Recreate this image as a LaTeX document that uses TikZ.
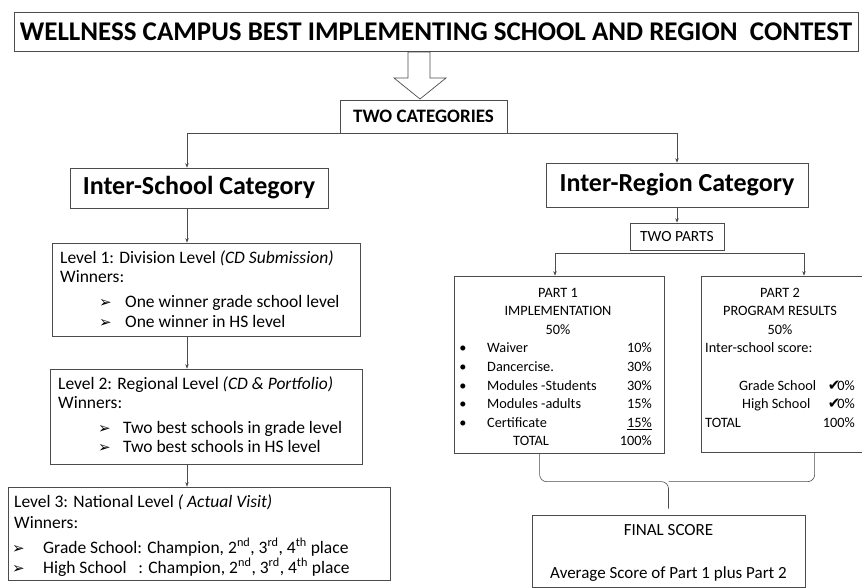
\documentclass[tikz,border=0pt]{standalone}
\usepackage{fontspec}
\setmainfont{Carlito}
\newfontfamily\symfont{DejaVu Sans}
\usetikzlibrary{arrows.meta,calc}

\newcommand{\arrbul}{{\symfont\fontsize{15}{15}\selectfont ➢}}
\newcommand{\chk}{{\symfont\fontsize{15}{15}\selectfont ✔}}

\tikzset{
  box/.style={draw=black!70, line width=0.7pt, inner sep=0pt},
  conn/.style={draw=black!70, line width=0.6pt},
  arr/.style={conn, -{Stealth[length=4.5pt,width=3.5pt]}},
  lvl/.style={anchor=base west, inner sep=0pt, font=\fontsize{17.5}{20}\selectfont},
  prt/.style={anchor=base, inner sep=0pt, font=\fontsize{14.3}{17}\selectfont},
}

\begin{document}
\begin{tikzpicture}[x=1pt,y=-1pt]
  \useasboundingbox (0,0) rectangle (862,588);
  % title and the two categories
  \node[box, minimum width=844, minimum height=39, font=\fontsize{27}{30}\selectfont\bfseries] (title) at (436,31.5) {WELLNESS CAMPUS BEST IMPLEMENTING SCHOOL AND REGION\ \ CONTEST};
  \draw[conn, line width=0.7pt] (408,52) -- (430,52) -- (430,78) -- (446,78) -- (420,99) -- (394,78) -- (408,78) -- cycle;
  \node[box, minimum width=167, minimum height=33, font=\fontsize{19}{22}\selectfont\bfseries] (cats) at (423.5,116.5) {TWO CATEGORIES};
  \node[box, minimum width=258, minimum height=40, font=\fontsize{26}{30}\selectfont\bfseries] (school) at (199,188) {Inter-School Category};
  \node[box, minimum width=262, minimum height=44, font=\fontsize{26}{30}\selectfont\bfseries] (region) at (677,185) {Inter-Region Category};
  \draw[arr] (cats.south) -| ([xshift=-12pt]school.north);
  \draw[arr] (cats.south) -| (region.north);

  % inter-school levels
  \node[box, minimum width=308, minimum height=93] (lvl1) at (206,289.5) {};
  \node[box, minimum width=312, minimum height=95] (lvl2) at (206,416.5) {};
  \node[box, minimum width=382, minimum height=93] (lvl3) at (199,533.5) {};
  \coordinate (spine) at (187,0);
  \draw[arr] (school.south -| spine) -- (lvl1.north -| spine);
  \draw[arr] (lvl1.south -| spine) -- (lvl2.north -| spine);
  \draw[arr] (lvl2.south -| spine) -- (lvl3.north -| spine);

  \node[lvl] (l1a) at (60,263) {Level 1: Division Level \textit{(CD Submission)}};
  \node[lvl] (l1b) at (60,282) {Winners:};
  \node[lvl] (l1c) at (99,307) {\arrbul};
  \node[lvl] (l1d) at (125,307) {One winner grade school level};
  \node[lvl] (l1e) at (99,327) {\arrbul};
  \node[lvl] (l1f) at (125,327) {One winner in HS level};

  \node[lvl] (l2a) at (58,389) {Level 2: Regional Level \textit{(CD \& Portfolio)}};
  \node[lvl] (l2b) at (58,408) {Winners:};
  \node[lvl] (l2c) at (98,433) {\arrbul};
  \node[lvl] (l2d) at (123,433) {Two best schools in grade level};
  \node[lvl] (l2e) at (98,452) {\arrbul};
  \node[lvl] (l2f) at (123,452) {Two best schools in HS level};

  \node[lvl] (l3a) at (14,507) {Level 3: National Level \textit{( Actual Visit)}};
  \node[lvl] (l3b) at (14,528) {Winners:};
  \node[lvl] (l3c) at (12,553) {\arrbul};
  \node[lvl] (l3d) at (43,553) {Grade School: Champion, 2\textsuperscript{nd}, 3\textsuperscript{rd}, 4\textsuperscript{th} place};
  \node[lvl] (l3e) at (12,573) {\arrbul};
  \node[lvl] (l3f) at (43,573) {High School\ \ \ : Champion, 2\textsuperscript{nd}, 3\textsuperscript{rd}, 4\textsuperscript{th} place};

  % inter-region parts
  \node[box, minimum width=94, minimum height=27, font=\fontsize{15.5}{18}\selectfont] (parts) at (677,236.5) {TWO PARTS};
  \node[box, minimum width=210, minimum height=177] (part1) at (559,364.5) {};
  \node[box, minimum width=165, minimum height=176] (part2) at (783.5,364) {};
  \draw[arr] (region.south) -- (parts.north);
  \draw[arr] ([yshift=-3pt]parts.south) -| ([xshift=-4pt]part1.north);
  \draw[arr] ([yshift=-3pt]parts.south) -| ([xshift=20.5pt]part2.north);

  \node[prt] (p1a) at (558,297) {PART 1};
  \node[prt] (p1b) at (558,315.6) {IMPLEMENTATION};
  \node[prt] (p1c) at (558,334.2) {50\%};
  \foreach \lab/\pct [count=\i] in {Waiver/10, Dancercise./30, Modules -Students/30, Modules -adults/15} {
    \node[prt] (p1dot\i) at (463,{334.2+18.6*\i}) {•};
    \node[prt, anchor=base west] (p1lab\i) at (487,{334.2+18.6*\i}) {\lab};
    \node[prt, anchor=base east] (p1pct\i) at (652,{334.2+18.6*\i}) {\pct\%};
  }
  \node[prt] (p1dot5) at (463,427.2) {•};
  \node[prt, anchor=base west] (p1lab5) at (487,427.2) {Certificate};
  \node[prt, anchor=base east] (p1pct5) at (652,427.2) {\underline{15\%}};
  \node[prt, anchor=base west] (p1tot) at (513,445.8) {TOTAL};
  \node[prt, anchor=base east] (p1all) at (652,445.8) {100\%};

  \node[prt] (p2a) at (780,297) {PART 2};
  \node[prt] (p2b) at (780,315.6) {PROGRAM RESULTS};
  \node[prt] (p2c) at (780,334.2) {50\%};
  \node[prt, anchor=base west] (p2d) at (705,352.8) {Inter-school score:};
  \node[prt, anchor=base west] (p2gs) at (739,390) {Grade School};
  \node[prt, anchor=base east] (p2gv) at (855,390) {\chk\kern-3pt0\%};
  \node[prt, anchor=base west] (p2hs) at (742,408.6) {High School};
  \node[prt, anchor=base east] (p2hv) at (855,408.6) {\chk\kern-3pt0\%};
  \node[prt, anchor=base west] (p2tot) at (705,427.2) {TOTAL};
  \node[prt, anchor=base east] (p2all) at (855,427.2) {100\%};

  % final score
  \node[box, minimum width=273, minimum height=72] (final) at (668.5,551) {};
  \node[prt, font=\fontsize{17}{20}\selectfont] (f1) at (668.5,535) {FINAL SCORE};
  \node[prt, font=\fontsize{17}{20}\selectfont] (f2) at (668.5,578) {Average Score of Part 1 plus Part 2};
  \draw[conn, rounded corners=7pt] ([xshift=86pt]part1.south west) |- ([yshift=33pt]final.north) -- ([yshift=6pt]final.north);
  \draw[conn, rounded corners=7pt] ([xshift=114pt]part2.south west) |- ([yshift=33pt]final.north);
\end{tikzpicture}
\end{document}
